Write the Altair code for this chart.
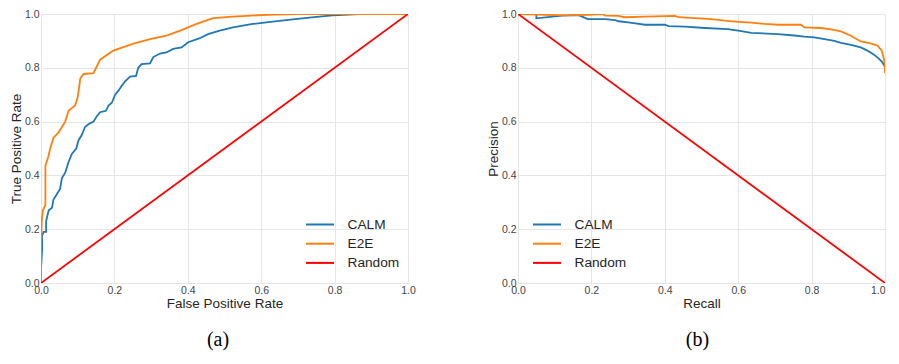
import altair as alt
import pandas as pd

# ---- ROC data (panel a) ----
roc_calm_fpr = [0.0, 0.0, 0.003, 0.003, 0.007, 0.014, 0.014, 0.021, 0.030, 0.034, 0.043, 0.052, 0.057, 0.066,
                0.075, 0.084, 0.096, 0.102, 0.111, 0.120, 0.129, 0.143, 0.152, 0.161, 0.177, 0.184, 0.193,
                0.202, 0.211, 0.220, 0.229, 0.243, 0.259, 0.265, 0.274, 0.297, 0.306, 0.324, 0.342, 0.360,
                0.383, 0.401, 0.433, 0.455, 0.487, 0.523, 0.577, 0.614, 0.686, 0.758, 0.795, 0.867, 1.0]
roc_calm_tpr = [0.0, 0.05, 0.125, 0.175, 0.19, 0.19, 0.23, 0.27, 0.28, 0.31, 0.33, 0.35, 0.39, 0.41,
                0.45, 0.48, 0.50, 0.53, 0.55, 0.58, 0.59, 0.60, 0.62, 0.635, 0.64, 0.66, 0.67,
                0.70, 0.715, 0.733, 0.75, 0.767, 0.77, 0.80, 0.814, 0.816, 0.84, 0.853, 0.857, 0.87,
                0.876, 0.895, 0.91, 0.925, 0.938, 0.95, 0.963, 0.969, 0.98, 0.99, 0.995, 1.0, 1.0]

roc_e2e_fpr = [0.0, 0.0, 0.002, 0.005, 0.012, 0.012, 0.02, 0.025, 0.034, 0.048, 0.057, 0.066, 0.075, 0.093,
               0.100, 0.107, 0.116, 0.143, 0.161, 0.197, 0.252, 0.297, 0.342, 0.383, 0.424, 0.469, 0.523,
               0.614, 0.700, 1.0]
roc_e2e_tpr = [0.0, 0.13, 0.23, 0.27, 0.29, 0.435, 0.47, 0.50, 0.54, 0.56, 0.58, 0.60, 0.64, 0.66,
               0.69, 0.76, 0.777, 0.78, 0.83, 0.864, 0.89, 0.907, 0.92, 0.94, 0.963, 0.985, 0.99,
               0.997, 1.0, 1.0]

roc_rand_x = [0.0, 1.0]
roc_rand_y = [0.0, 1.0]

# ---- Precision-recall data (panel b) ----
pr_calm_rec = [0.0, 0.05, 0.05, 0.12, 0.165, 0.175, 0.19, 0.238, 0.265, 0.274, 0.30, 0.32, 0.346, 0.40,
               0.41, 0.455, 0.509, 0.572, 0.60, 0.636, 0.708, 0.753, 0.78, 0.807, 0.835, 0.862, 0.88,
               0.907, 0.934, 0.952, 0.97, 0.984, 0.993, 1.0]
pr_calm_prec = [1.0, 1.0, 0.984, 0.994, 0.996, 0.99, 0.981, 0.981, 0.977, 0.973, 0.969, 0.965, 0.96, 0.96,
                0.955, 0.953, 0.948, 0.944, 0.938, 0.93, 0.925, 0.92, 0.916, 0.913, 0.907, 0.90, 0.893,
                0.885, 0.876, 0.864, 0.849, 0.833, 0.82, 0.804]

pr_e2e_rec = [0.0, 0.13, 0.19, 0.23, 0.238, 0.274, 0.29, 0.346, 0.428, 0.437, 0.482, 0.527, 0.563, 0.60,
              0.636, 0.672, 0.708, 0.771, 0.78, 0.825, 0.853, 0.88, 0.907, 0.934, 0.961, 0.98, 0.991,
              0.996, 0.999, 1.0]
pr_e2e_prec = [1.0, 0.995, 0.997, 1.0, 0.994, 0.993, 0.988, 0.99, 0.993, 0.988, 0.985, 0.981, 0.975, 0.971,
               0.968, 0.963, 0.96, 0.96, 0.95, 0.948, 0.943, 0.935, 0.919, 0.898, 0.891, 0.882, 0.864,
               0.839, 0.82, 0.78]

pr_rand_x = [0.0, 1.0]
pr_rand_y = [1.0, 0.0]

series_names = ["CALM", "E2E", "Random"]
series_colors = ["#1f77b4", "#ff7f0e", "#ff0000"]
ticks = [0.0, 0.2, 0.4, 0.6, 0.8, 1.0]


def build_frame(pairs):
    rows = []
    for name, xs, ys in pairs:
        for i, (a, b) in enumerate(zip(xs, ys)):
            rows.append({"series": name, "x": a, "y": b, "idx": i})
    return pd.DataFrame(rows)


roc_df = build_frame([("CALM", roc_calm_fpr, roc_calm_tpr),
                      ("E2E", roc_e2e_fpr, roc_e2e_tpr),
                      ("Random", roc_rand_x, roc_rand_y)])
pr_df = build_frame([("CALM", pr_calm_rec, pr_calm_prec),
                     ("E2E", pr_e2e_rec, pr_e2e_prec),
                     ("Random", pr_rand_x, pr_rand_y)])

FONT = "Liberation Sans"


def panel(data, xtitle, ytitle, legend_x, caption, cap_dx, last_label_right=False):
    x_axis_kwargs = dict(title=xtitle, values=ticks, format=".1f", titlePadding=1)
    if last_label_right:
        x_axis_kwargs["labelAlign"] = alt.ExprRef("datum.value == 1 ? 'right' : 'center'")
    return alt.Chart(data).mark_line(strokeWidth=1.8, clip=True).encode(
        x=alt.X("x:Q", scale=alt.Scale(domain=[0, 1], nice=False),
                axis=alt.Axis(**x_axis_kwargs)),
        y=alt.Y("y:Q", scale=alt.Scale(domain=[0, 1], nice=False),
                axis=alt.Axis(title=ytitle, values=ticks, format=".1f", titlePadding=1)),
        color=alt.Color("series:N",
                        scale=alt.Scale(domain=series_names, range=series_colors),
                        legend=alt.Legend(title=None, orient="none", legendX=legend_x, legendY=202.5,
                                          symbolType="M-2,0H2", symbolSize=196, symbolStrokeWidth=2,
                                          labelFontSize=13.7, labelFont=FONT, labelColor="#262626",
                                          labelOffset=19.5, rowPadding=4.2, padding=0)),
        order="idx:Q",
    ).properties(
        width=367, height=269,
        title=alt.TitleParams(caption, orient="bottom", font="Liberation Serif", fontSize=20,
                              fontWeight="normal", color="black", offset=20, frame="group", dx=cap_dx),
    )


left = panel(roc_df, "False Positive Rate", "True Positive Rate", 271, "(a)", -6.5)
right = panel(pr_df, "Recall", "Precision", 21, "(b)", -4, last_label_right=True)

chart = alt.hconcat(left, right, spacing=69).resolve_legend(color="independent").configure(
    padding={"left": 0, "top": 0, "right": 0, "bottom": 0},
).configure_view(
    stroke="#dddddd", strokeWidth=1,
).configure_axis(
    grid=True, gridColor="#e5e5e5", gridWidth=1, domain=False, ticks=False,
    labelFont=FONT, labelFontSize=10.5, labelColor="#444444", labelPadding=2,
    titleFont=FONT, titleFontSize=13.5, titleFontWeight="normal", titleColor="#262626",
    labelFlush=False,
)

chart.save("out.html", embed_options={"renderer": "svg", "actions": False})
